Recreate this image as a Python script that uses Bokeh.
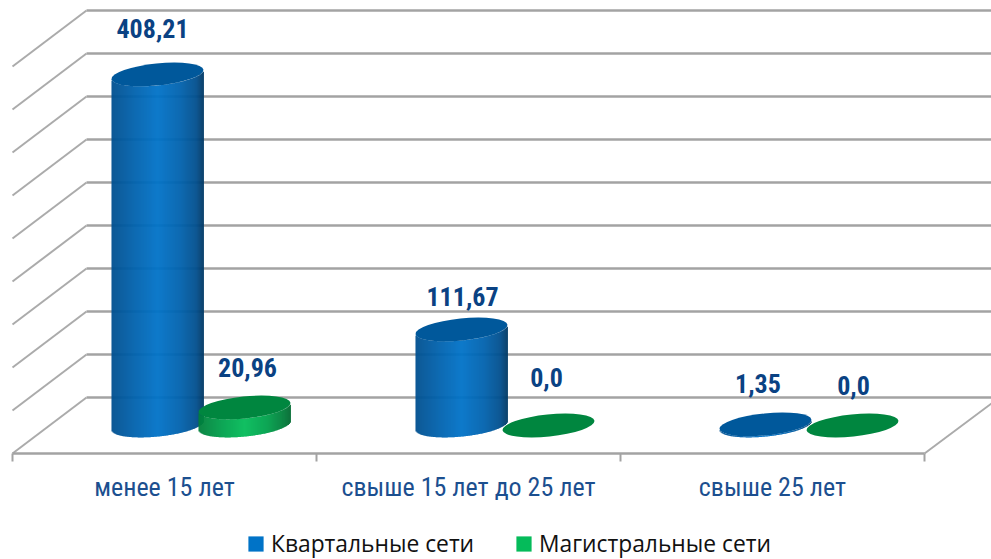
import numpy as np
from bokeh.embed import file_html
from bokeh.resources import INLINE
from bokeh.plotting import figure
from bokeh.models import FixedTicker, Legend, LegendItem, LinearAxis
from bokeh.core.properties import value

# ---- data ----
categories = ["менее 15 лет", "свыше 15 лет до 25 лет", "свыше 25 лет"]
series_names = ["Квартальные сети", "Магистральные сети"]
kvartal = [408.21, 111.67, 1.35]
magistral = [20.96, 0.0, 0.0]
kvartal_labels = ["408,21", "111,67", "1,35"]
magistral_labels = ["20,96", "0,0", "0,0"]
grid_values = [0, 50, 100, 150, 200, 250, 300, 350, 400, 450]

# ---- geometry (screen px per data unit, perspective offsets) ----
PX_V = 0.86            # px per value unit
PX_C = 304.0           # px per category
DEPTH_X = 74 / PX_C    # wall depth in category units
DEPTH_V = 28 / PX_V    # back-wall shift relative to the bar base plane
FLOOR_V = -28 / PX_V   # front edge of floor relative to bar base plane
WALL_V = 56 / PX_V
OFFS = [-7 / PX_C - 0.0, 80 / PX_C]   # bar offset from category centre
A, B, TH = 46.2, 11.0, 0.102          # ellipse semi-axes in px, tilt in radians

x0 = -12 / PX_C
x1 = (991 - 12) / PX_C
y_top = 425 / PX_V
y_bot = (425 - 559) / PX_V

p = figure(frame_width=991, frame_height=559,
           x_range=(x0, x1), y_range=(y_bot, y_top),
           output_backend="svg", toolbar_location=None, min_border=0,
           min_border_left=0, min_border_right=0, min_border_top=0, min_border_bottom=0,
           x_axis_location=None, y_axis_location=None, outline_line_color=None,
           background_fill_color="white", border_fill_color="white")
p.grid.visible = False

# ---- walls ----
GRID = "#a3a3a3"
gv = np.array(grid_values, float)
p.segment(x0=[DEPTH_X] * len(gv), x1=[x1 + 0.1] * len(gv), y0=gv + DEPTH_V, y1=gv + DEPTH_V,
          line_color=GRID, line_width=2.4)
p.segment(x0=[0.0] * len(gv), x1=[DEPTH_X] * len(gv), y0=gv + DEPTH_V - WALL_V, y1=gv + DEPTH_V,
          line_color="#ababab", line_width=2)
p.segment(x0=[3.0], x1=[3.0 + 67 / PX_C], y0=[FLOOR_V], y1=[FLOOR_V + 50 / PX_V],
          line_color="#ababab", line_width=2)

# ---- axis ----
ax = LinearAxis(ticker=FixedTicker(ticks=[0.5, 1.5, 2.5], minor_ticks=[0, 1, 2, 3]),
                major_label_overrides={0.5: categories[0], 1.5: categories[1], 2.5: categories[2]},
                bounds=(0, 3), fixed_location=FLOOR_V, axis_line_color=GRID, axis_line_width=2.4,
                major_tick_line_color=None, major_tick_in=0, major_tick_out=0,
                minor_tick_line_color=GRID, minor_tick_line_width=2, minor_tick_in=0, minor_tick_out=8,
                major_label_standoff=10, major_label_text_color="#1c4f8f",
                major_label_text_font="Roboto Condensed", major_label_text_font_size="26px")
p.add_layout(ax, "below")


def ellipse_lower(dx):
    t = np.linspace(np.pi, 2 * np.pi, 721)
    xs = A * np.cos(t) * np.cos(TH) - B * np.sin(t) * np.sin(TH)
    ys = A * np.cos(t) * np.sin(TH) + B * np.sin(t) * np.cos(TH)
    o = np.argsort(xs)
    return np.interp(dx, xs[o], ys[o])


def hexrgb(c):
    return np.array([int(c[i:i + 2], 16) for i in (1, 3, 5)], float)


def gradient(stops, f):
    pos = [s[0] for s in stops]
    rgb = np.array([hexrgb(s[1]) for s in stops])
    return "#%02x%02x%02x" % tuple(int(round(np.interp(f, pos, rgb[:, k]))) for k in range(3))


STOPS = [
    [(0, "#00508f"), (0.25, "#0062ad"), (0.5, "#0073c8"), (0.75, "#0062ad"), (0.92, "#004f8e"), (1, "#003864")],
    [(0, "#007f3b"), (0.25, "#00a04c"), (0.5, "#05bc5a"), (0.75, "#00a04c"), (0.92, "#007f3b"), (1, "#006a31")],
]
TOPS = ["#00589b", "#00863f"]
series = [kvartal, magistral]
labels = [kvartal_labels, magistral_labels]
# label nudges from the top of each bar, screen px (dx, dy)
NUDGE = [[(-5, -46), (1, -33), (-7.5, -41)], [(3, -40), (-2, -48), (1, -40)]]

edges = np.arange(-46, 46.5, 1.0)
legend_renderers = [None, None]
for s, vals in enumerate(series):
    for i, v in enumerate(vals):
        cx = i + 0.5 + OFFS[s]
        if v * PX_V >= 0.5:
            mids = edges[:-1] + 0.5
            low = ellipse_lower(mids) / PX_V
            body = p.quad(left=cx + edges[:-1] / PX_C, right=cx + (edges[1:] + 0.4) / PX_C,
                          bottom=low, top=v + low,
                          fill_color=[gradient(STOPS[s], (m + 46) / 92) for m in mids],
                          line_color=None)
            if legend_renderers[s] is None:
                legend_renderers[s] = body
        p.ellipse(x=[cx], y=[v], width=[2 * A], height=[2 * B], angle=[TH],
                  width_units="screen", height_units="screen",
                  fill_color=TOPS[s], line_color=None)
    xs = [i + 0.5 + OFFS[s] for i in range(len(vals))]
    p.text(x=xs, y=vals, text=labels[s],
           x_offset=[n[0] for n in NUDGE[s]], y_offset=[n[1] for n in NUDGE[s]],
           text_align="center", text_baseline="middle",
           text_font=value("Roboto Condensed"), text_font_style="bold",
           text_font_size="26px", text_color="#0a4283")

# ---- legend: swatch takes the middle strip colour of each series' first bar ----
mid_strip = len(edges) // 2
leg = Legend(items=[LegendItem(label=series_names[0], renderers=[legend_renderers[0]], index=mid_strip),
                    LegendItem(label=series_names[1], renderers=[legend_renderers[1]], index=mid_strip)],
             orientation="horizontal", location=(246, 0), border_line_color=None,
             background_fill_alpha=0, margin=0, padding=0, spacing=40,
             glyph_width=19, glyph_height=19, label_standoff=6,
             label_text_font="Open Sans", label_text_font_size="22.8px", label_text_color="#111111")
p.add_layout(leg, "center")

open("out.html", "w").write(file_html(p, INLINE))
